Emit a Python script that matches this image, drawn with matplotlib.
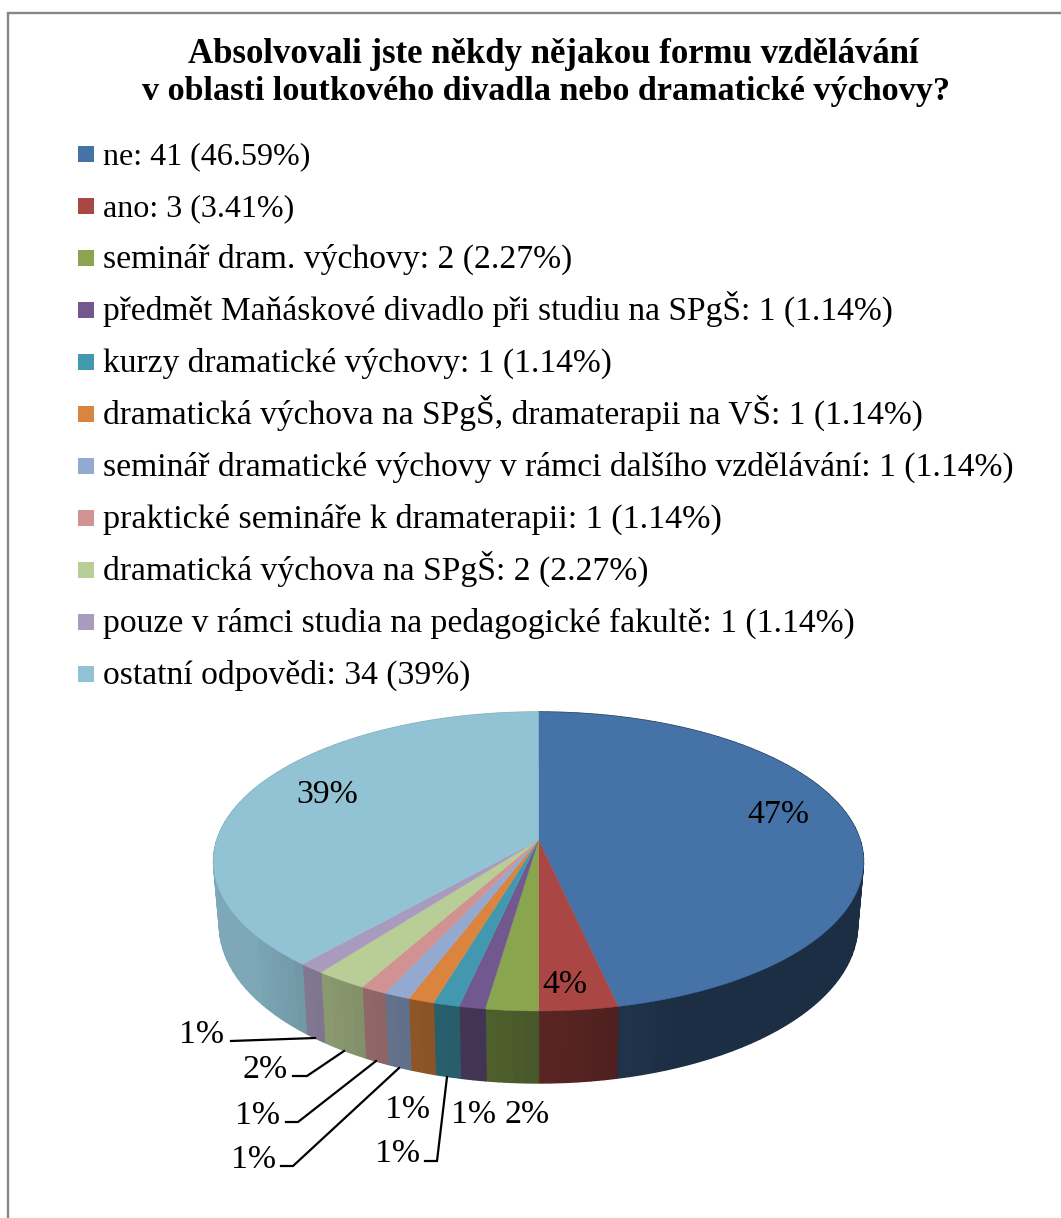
import matplotlib
matplotlib.use('Agg')
import matplotlib.pyplot as plt
import matplotlib.patches as patches
import numpy as np

plt.rcParams['font.family'] = ['Liberation Serif', 'DejaVu Serif']

title_lines = ['Absolvovali jste někdy nějakou formu vzdělávání',
               'v oblasti loutkového divadla nebo dramatické výchovy?']
legend_labels = ['ne: 41 (46.59%)',
                 'ano: 3 (3.41%)',
                 'seminář dram. výchovy: 2 (2.27%)',
                 'předmět Maňáskové divadlo při studiu na SPgŠ: 1 (1.14%)',
                 'kurzy dramatické výchovy: 1 (1.14%)',
                 'dramatická výchova na SPgŠ, dramaterapii na VŠ: 1 (1.14%)',
                 'seminář dramatické výchovy v rámci dalšího vzdělávání: 1 (1.14%)',
                 'praktické semináře k dramaterapii: 1 (1.14%)',
                 'dramatická výchova na SPgŠ: 2 (2.27%)',
                 'pouze v rámci studia na pedagogické fakultě: 1 (1.14%)',
                 'ostatní odpovědi: 34 (39%)']
counts = [41, 3, 2, 1, 1, 1, 1, 1, 2, 1, 34]
pct_labels = ['47%', '4%', '2%', '1%', '1%', '1%', '1%', '1%', '2%', '1%', '39%']
colors = ['#4572A7', '#AA4643', '#89A54E', '#71588F', '#4198AF', '#DB843D',
          '#93A9CF', '#D19392', '#B9CD96', '#A99BBD', '#92C3D5']

# pie geometry in image pixels (perspective view of a disc)
CX, CY = 538.5, 840
K = 0.1438
BX, BY = 321.6, 146.4
FS_PCT = 24.4
# the reference text is hinted wider on some rows, so sizes differ a little
legend_sizes = [23.1, 23.1, 24.2, 24.1, 24.1, 24.1, 24.2, 24.6, 24.2, 24.2, 24.2]


def top_xy(theta):
    u, v = np.sin(theta), np.cos(theta)
    return CX + BX * u / (1 + K * v), CY - BY * v / (1 + K * v)


def bottom_xy(theta):
    x, y = top_xy(theta)
    return CX + (x - CX) * 0.982, y + 62 - 10 * np.cos(theta)


def side_shade(theta):
    # front right is darkest, the left end of the rim is lightest
    return np.clip(0.53 + (np.degrees(theta) - 180) * 0.006, 0.4, 0.86)


fig = plt.figure(figsize=(10.61, 12.18), dpi=100)
ax = fig.add_axes([0, 0, 1, 1])
ax.set_xlim(0, 1061)
ax.set_ylim(1218, 0)
ax.axis('off')

# frame, only top and left are visible
ax.plot([8, 8, 1061], [1218, 13, 13], color='#868686', lw=1.7, solid_joinstyle='miter')

ax.text(553, 63, title_lines[0], ha='center', va='baseline', fontsize=25, weight='bold', color='black')
ax.text(546, 100, title_lines[1], ha='center', va='baseline', fontsize=24.6, weight='bold', color='black')

# legend
for i, (label, c) in enumerate(zip(legend_labels, colors)):
    y = 153.5 + i * 52
    ax.add_patch(patches.Rectangle((77.5, y - 8), 16, 16, facecolor=c, edgecolor='none'))
    ax.text(103, y + 10.5, label, ha='left', va='baseline', fontsize=legend_sizes[i], color='black')

# pie
edges = np.cumsum([0] + counts) / sum(counts) * 2 * np.pi

# rim first, split into strips so the shade can change around it
for i, c in enumerate(colors):
    t1, t2 = edges[i], edges[i + 1]
    n = max(2, int(np.degrees(t2 - t1) / 2))
    steps = np.linspace(t1, t2, n + 1)
    rgb = np.array(matplotlib.colors.to_rgb(c))
    for a, b in zip(steps[:-1], steps[1:]):
        t = np.linspace(a, b, 6)
        xt, yt = top_xy(t)
        xb, yb = bottom_xy(t)
        shade = rgb * side_shade((a + b) / 2)
        ax.fill(np.r_[xt, xb[::-1]], np.r_[yt, yb[::-1]], facecolor=shade, edgecolor=shade, lw=1.0)

# top face
for i, c in enumerate(colors):
    t = np.linspace(edges[i], edges[i + 1], 200)
    x, y = top_xy(t)
    ax.fill(np.r_[CX, x], np.r_[CY, y], facecolor=c, edgecolor=c, lw=0.3)

# data labels
label_xy = [(778, 815), (565, 985), (527, 1115), (474, 1115), (408, 1110), (397, 1154),
            (254, 1160), (258, 1116), (265, 1070), (202, 1035), (327, 795)]
for txt, (x, y) in zip(pct_labels, label_xy):
    ax.text(x, y, txt, ha='center', va='center', fontsize=FS_PCT, color='black')

# leader lines
leaders = [([231, 315], [1041, 1038]),
           ([293, 307, 344], [1076, 1076, 1051]),
           ([286, 298, 376], [1122, 1122, 1061]),
           ([281, 293, 399], [1166, 1166, 1068]),
           ([425, 437, 447], [1161, 1161, 1077])]
for xs, ys in leaders:
    ax.plot(xs, ys, color='black', lw=1.6, solid_joinstyle='miter')

fig.savefig('out.png', dpi=100)
